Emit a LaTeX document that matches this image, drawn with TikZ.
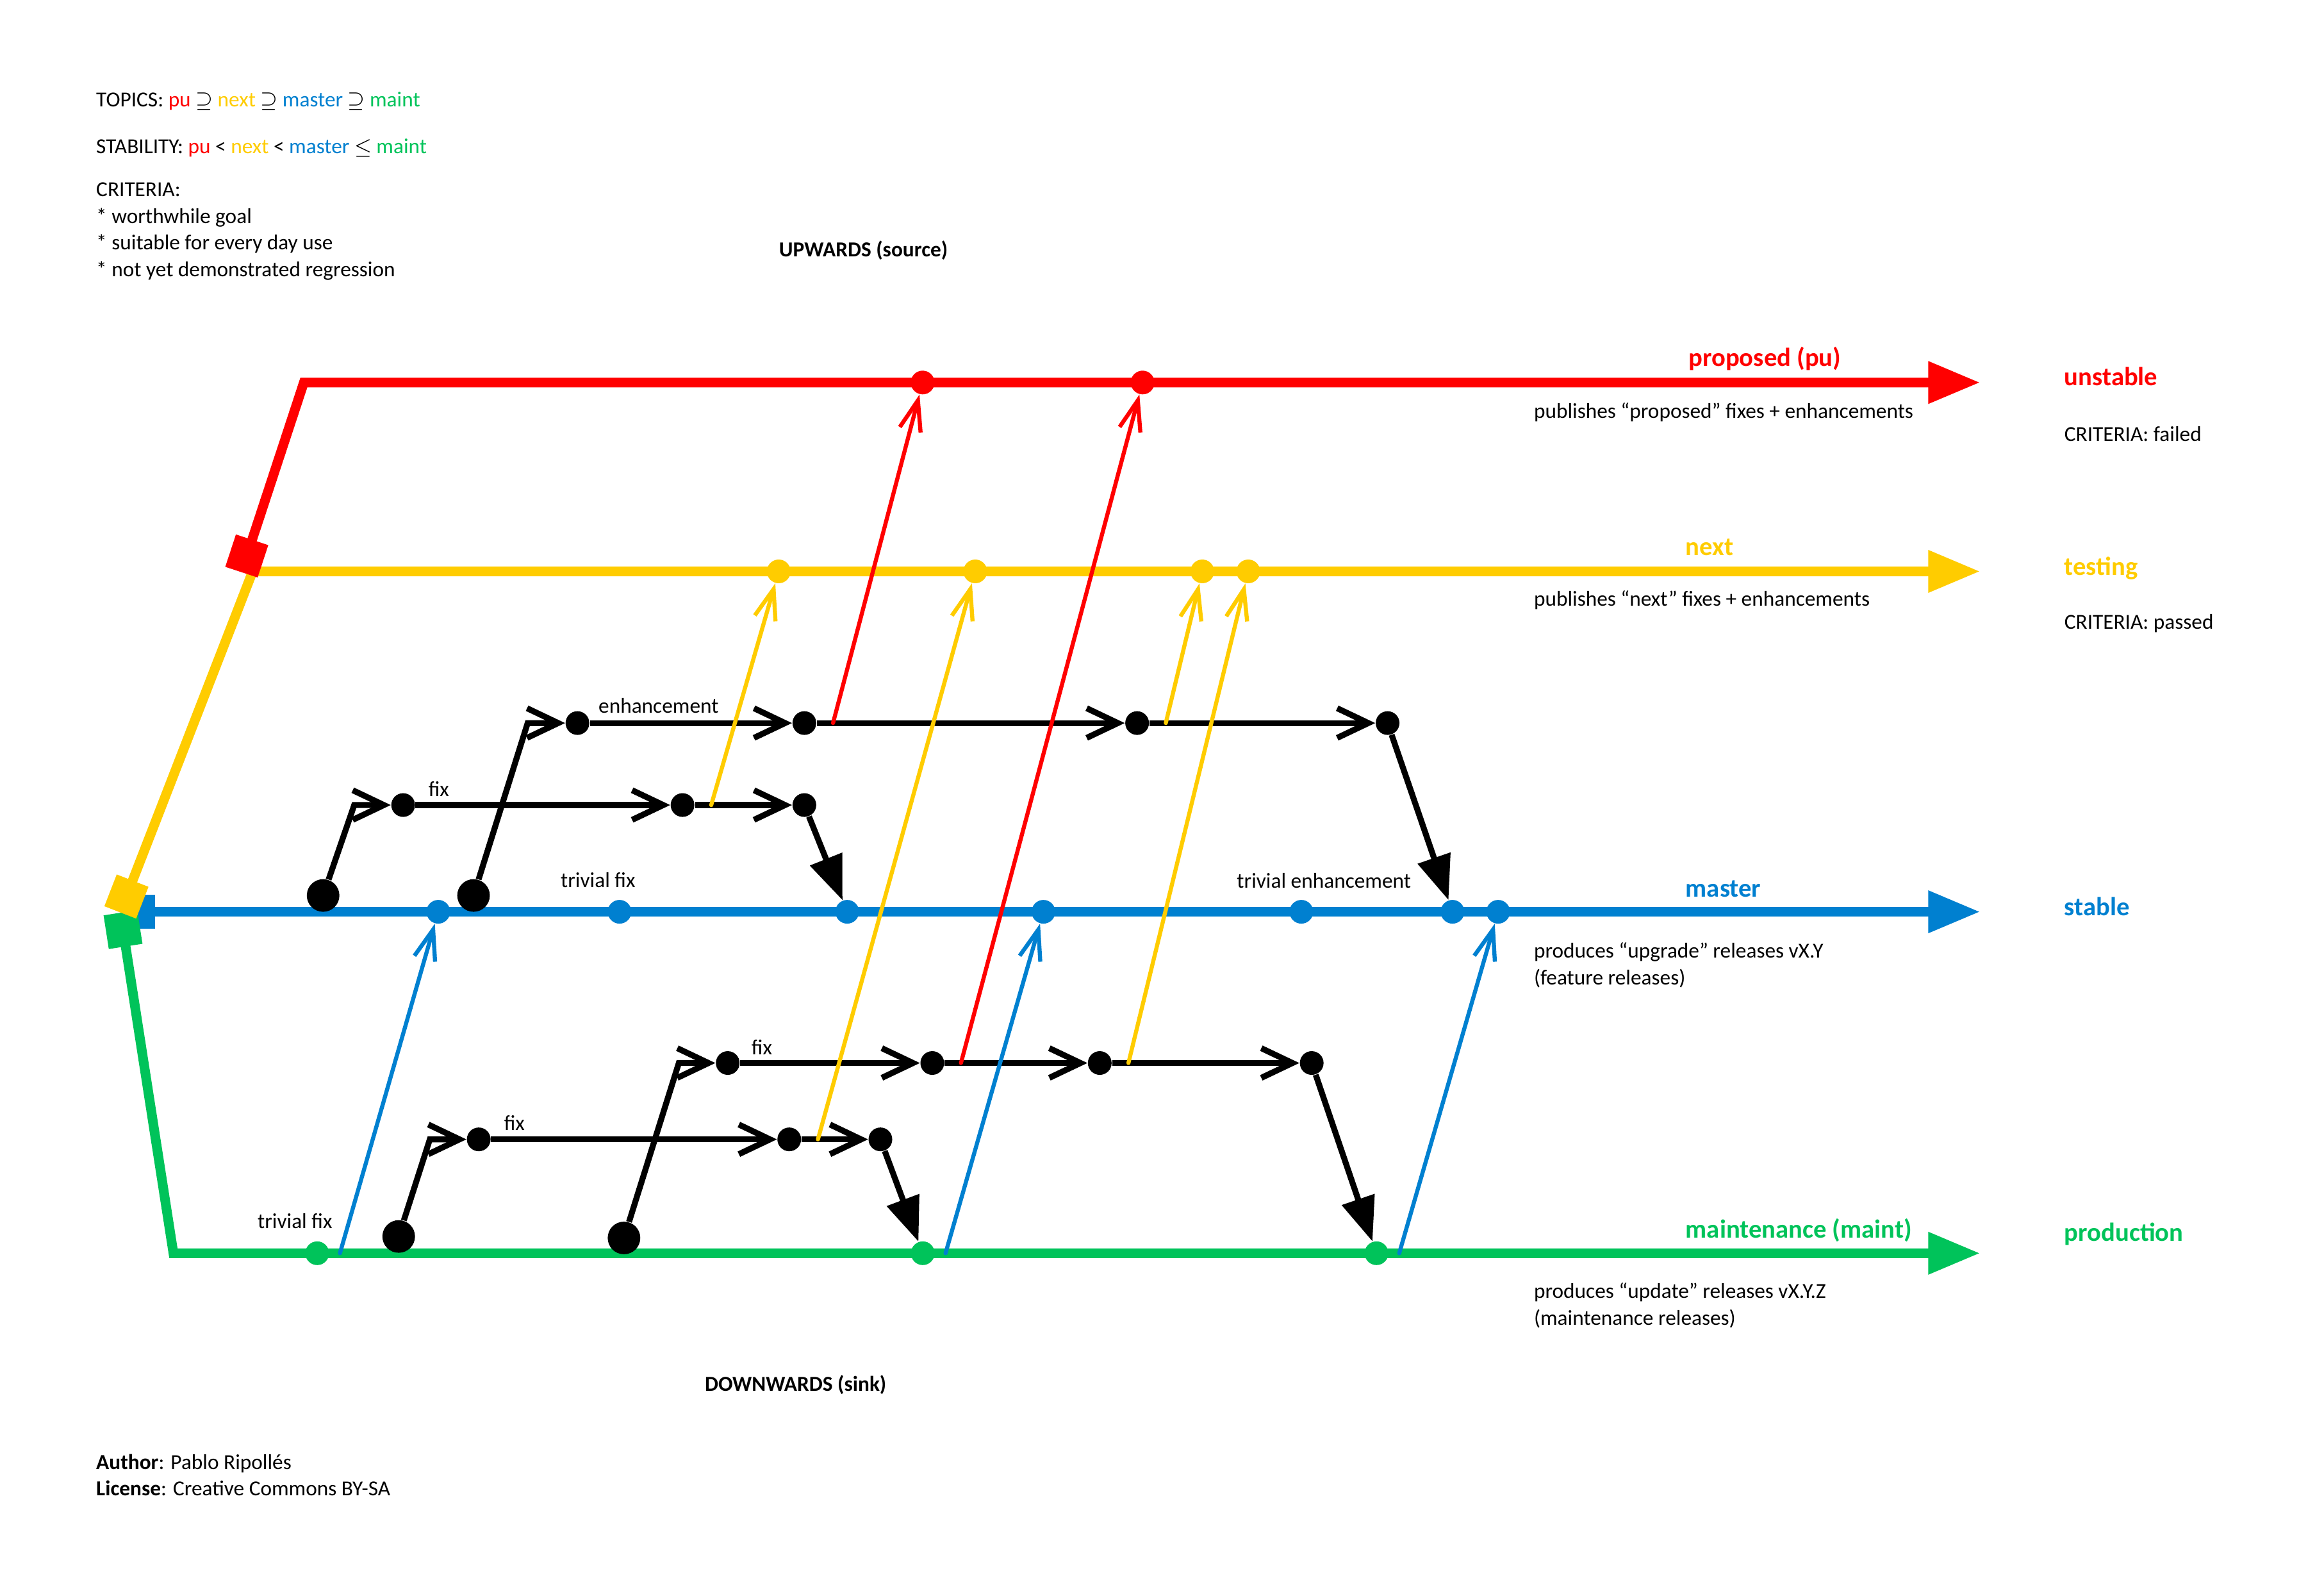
\documentclass[tikz,border=0pt]{standalone}
\usepackage{fontspec}
\setmainfont{Carlito}
\usetikzlibrary{arrows.meta,positioning}

\definecolor{pucol}{HTML}{FF0000}
\definecolor{nextcol}{HTML}{FFCC00}
\definecolor{mastercol}{HTML}{0080D0}
\definecolor{maintcol}{HTML}{00C35A}

\tikzset{
txt/.style={inner sep=0pt,anchor=base west,font=\fontsize{8.2}{10.2}\selectfont},
head/.style={inner sep=0pt,anchor=base west,font=\fontsize{10}{12}\selectfont\bfseries},
branch/.style={line width=0.13cm,line join=miter,shorten <=-0.23cm,{Square[length=0.46cm,width=0.46cm]}-{Triangle[length=0.7cm,width=0.54cm]}},
commit/.style={circle,fill=#1,inner sep=0pt,minimum size=0.32cm},
root/.style={circle,fill=black,inner sep=0pt,minimum size=0.44cm},
topic/.style={line width=0.08cm,-{Straight Barb[length=0.42cm,width=0.4cm]}},
landing/.style={line width=0.08cm,-{Triangle[length=0.6cm,width=0.45cm]}},
merge/.style={line width=0.055cm,line cap=round,-{Straight Barb[length=0.41cm,width=0.29cm]}}
}

\begin{document}
\begin{tikzpicture}[x=0.02cm,y=-0.02cm]
\useasboundingbox (0,0) rectangle (1568,1075);

\node[txt] (topics) at (64.6,72) {TOPICS: \textcolor{pucol}{pu} $\supseteq$ \textcolor{nextcol}{next} $\supseteq$ \textcolor{mastercol}{master} $\supseteq$ \textcolor{maintcol}{maint}};
\node[txt] (stab) at (64.6,103.5) {STABILITY: \textcolor{pucol}{pu} < \textcolor{nextcol}{next} < \textcolor{mastercol}{master} $\leq$ \textcolor{maintcol}{maint}};
\node[txt] (crit) at (64.6,132.6) {CRITERIA:};
\node[txt] (crit1) at (64.6,150.5) {* worthwhile goal};
\node[txt] (crit2) at (64.6,168.6) {* suitable for every day use};
\node[txt] (crit3) at (64.6,186.6) {* not yet demonstrated regression};
\node[txt,anchor=base,font=\fontsize{8.2}{10.2}\selectfont\bfseries] (upw) at (582.6,173) {UPWARDS (source)};
\node[txt,anchor=base,font=\fontsize{8.2}{10.2}\selectfont\bfseries] (downw) at (536.8,938.5) {DOWNWARDS (sink)};
\node[txt] (author) at (64.6,991) {\textbf{Author}: Pablo Ripollés};
\node[txt] (license) at (64.6,1009) {\textbf{License}: Creative Commons BY-SA};

\coordinate (ms0) at (93,615);
\coordinate (ms1) at (1336,615);
\coordinate (mt0) at (83,627);
\coordinate (mt1) at (117,845.3);
\coordinate (mt2) at (1336,845.3);
\coordinate (nx0) at (85.3,604.7);
\coordinate (nx1) at (170.5,385.4);
\coordinate (nx2) at (1336,385.4);
\coordinate (pu0) at (166.5,375);
\coordinate (pu1) at (205,258);
\coordinate (pu2) at (1336,258);
\draw[branch,mastercol] (ms0) -- (ms1);
\draw[branch,maintcol] (mt0) -- (mt1) -- (mt2);
\draw[branch,nextcol] (nx0) -- (nx1) -- (nx2);
\draw[branch,pucol] (pu0) -- (pu1) -- (pu2);

\node[head,pucol] (pulbl) at (1139,247) {proposed (pu)};
\node[head,pucol] (unstable) at (1392.5,260) {unstable};
\node[txt] (pudesc) at (1034.6,281.9) {publishes “proposed” fixes + enhancements};
\node[txt] (pucrit) at (1392.5,297.5) {CRITERIA: failed};
\node[head,nextcol] (nextlbl) at (1137,374.6) {next};
\node[head,nextcol] (testing) at (1392.5,387.8) {testing};
\node[txt] (nextdesc) at (1034.6,408.9) {publishes “next” fixes + enhancements};
\node[txt] (nextcrit) at (1392.5,424.5) {CRITERIA: passed};
\node[head,mastercol] (masterlbl) at (1137,604.8) {master};
\node[head,mastercol] (stable) at (1392.5,617.4) {stable};
\node[txt] (masterdesc) at (1034.6,646) {produces “upgrade” releases vX.Y};
\node[txt] (masterdesc2) at (1034.6,664.4) {(feature releases)};
\node[head,maintcol] (maintlbl) at (1137,834.8) {maintenance (maint)};
\node[head,maintcol] (production) at (1392.5,837) {production};
\node[txt] (maintdesc) at (1034.6,875.7) {produces “update” releases vX.Y.Z};
\node[txt] (maintdesc2) at (1034.6,893.8) {(maintenance releases)};

\node[commit=pucol] (p1) at (622.5,258) {};
\node[commit=pucol] (p2) at (770.9,258) {};
\node[commit=nextcol] (n1) at (525.4,385.4) {};
\node[commit=nextcol] (n2) at (658,385.4) {};
\node[commit=nextcol] (n3) at (811.2,385.4) {};
\node[commit=nextcol] (n4) at (842.2,385.4) {};
\node[commit=mastercol] (m1) at (295.7,615) {};
\node[commit=mastercol] (m2) at (418,615) {};
\node[commit=mastercol] (m3) at (571.6,615) {};
\node[commit=mastercol] (m4) at (704,615) {};
\node[commit=mastercol] (m5) at (878,615) {};
\node[commit=mastercol] (m6) at (980,615) {};
\node[commit=mastercol] (m7) at (1010.8,615) {};
\node[commit=maintcol] (g1) at (214,845.3) {};
\node[commit=maintcol] (g2) at (622.6,845.3) {};
\node[commit=maintcol] (g3) at (928.7,845.3) {};

\node[txt] (fixa) at (288.8,537.3) {fix};
\node[txt] (enh) at (403.5,481) {enhancement};
\node[txt] (trivm) at (378,598.4) {trivial fix};
\node[txt] (trivenh) at (834.2,598.8) {trivial enhancement};
\node[txt] (fixb) at (339.8,762.4) {fix};
\node[txt] (fixc) at (506.7,711.2) {fix};
\node[txt] (trivg) at (173.5,828.4) {trivial fix};

\node[root] (fa0) at (218,604) {};
\coordinate (fa0c) at (239,543);
\node[commit=black] (fa1) at (272,543) {};
\node[commit=black] (fa2) at (460.5,543) {};
\node[commit=black] (fa3) at (542.7,543) {};
\draw[topic] (fa0) -- (fa0c) -- (fa1);
\draw[topic] (fa1) -- (fa2);
\draw[topic] (fa2) -- (fa3);
\draw[landing] (fa3) -- (m3);

\node[root] (en0) at (319.5,604) {};
\coordinate (en0c) at (356,487.7);
\node[commit=black] (en1) at (389.6,487.7) {};
\node[commit=black] (en2) at (542.7,487.7) {};
\node[commit=black] (en3) at (767.2,487.7) {};
\node[commit=black] (en4) at (936.2,487.7) {};
\draw[topic] (en0) -- (en0c) -- (en1);
\draw[topic] (en1) -- (en2);
\draw[topic] (en2) -- (en3);
\draw[topic] (en3) -- (en4);
\draw[landing] (en4) -- (m6);

\node[root] (fb0) at (269,834) {};
\coordinate (fb0c) at (290,768.5);
\node[commit=black] (fb1) at (323,768.5) {};
\node[commit=black] (fb2) at (532.5,768.5) {};
\node[commit=black] (fb3) at (594,768.5) {};
\draw[topic] (fb0) -- (fb0c) -- (fb1);
\draw[topic] (fb1) -- (fb2);
\draw[topic] (fb2) -- (fb3);
\draw[landing] (fb3) -- (g2);

\node[root] (fc0) at (421,835) {};
\coordinate (fc0c) at (458,717);
\node[commit=black] (fc1) at (491,717) {};
\node[commit=black] (fc2) at (629,717) {};
\node[commit=black] (fc3) at (742,717) {};
\node[commit=black] (fc4) at (885,717) {};
\draw[topic] (fc0) -- (fc0c) -- (fc1);
\draw[topic] (fc1) -- (fc2);
\draw[topic] (fc2) -- (fc3);
\draw[topic] (fc3) -- (fc4);
\draw[landing] (fc4) -- (g3);

\coordinate[right=0.22cm of fa2] (y1);
\coordinate[right=0.22cm of en2] (r1);
\coordinate[right=0.22cm of fb2] (y2);
\coordinate[right=0.22cm of fc2] (r2);
\coordinate[right=0.22cm of en3] (y3);
\coordinate[right=0.22cm of fc3] (y4);
\coordinate[right=0.14cm of g1] (b1);
\coordinate[right=0.14cm of g2] (b2);
\coordinate[right=0.14cm of g3] (b3);
\draw[merge,nextcol] (y1) -- (n1);
\draw[merge,pucol] (r1) -- (p1);
\draw[merge,nextcol] (y2) -- (n2);
\draw[merge,pucol] (r2) -- (p2);
\draw[merge,nextcol] (y3) -- (n3);
\draw[merge,nextcol] (y4) -- (n4);
\draw[merge,mastercol] (b1) -- (m1);
\draw[merge,mastercol] (b2) -- (m4);
\draw[merge,mastercol] (b3) -- (m7);
\end{tikzpicture}
\end{document}
